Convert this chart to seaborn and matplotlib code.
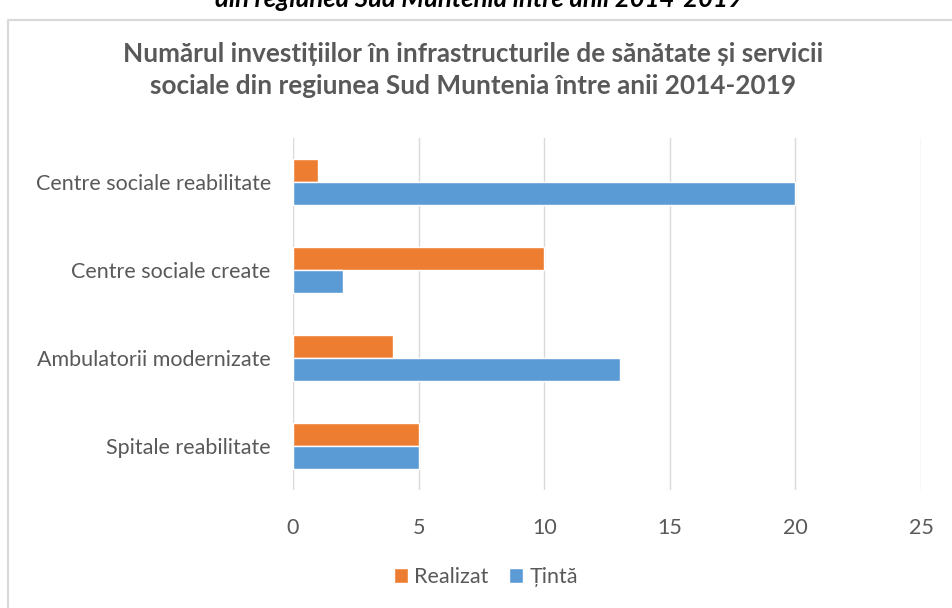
import pandas as pd
import seaborn as sns
import matplotlib.pyplot as plt
from matplotlib.lines import Line2D

# date
categorii = ["Centre sociale reabilitate", "Centre sociale create",
             "Ambulatorii modernizate", "Spitale reabilitate"]
realizat = [1, 10, 4, 5]
tinta = [20, 2, 13, 5]
serii = ["Realizat", "Țintă"]
culori = ["#ED7D31", "#5B9BD5"]
x_ticks = [0, 5, 10, 15, 20, 25]

df = pd.DataFrame({
    "Categorie": categorii * 2,
    "Valoare": realizat + tinta,
    "Serie": [serii[0]] * len(categorii) + [serii[1]] * len(categorii),
})

sns.set_style("white")
plt.rcParams["font.family"] = ["Lato", "DejaVu Sans"]

fig = plt.figure(figsize=(9.52, 6.08), dpi=100)
ax = fig.add_axes([293 / 952, 1 - 490 / 608, (921 - 293) / 952, (490 - 138) / 608])

sns.barplot(data=df, x="Valoare", y="Categorie", hue="Serie", orient="h",
            order=categorii, hue_order=serii, palette=culori,
            width=0.52, gap=0, saturation=1, ax=ax, legend=True)

ax.set_xlim(0, 25)
ax.set_xticks(x_ticks)
ax.xaxis.grid(True, color="#D9D9D9", linewidth=1)
ax.set_axisbelow(True)
for s in ax.spines.values():
    s.set_visible(False)
ax.set_xlabel("")
ax.set_ylabel("")
ax.tick_params(axis="x", colors="#595959", labelsize=15.5, length=0, pad=20)
ax.tick_params(axis="y", colors="#595959", labelsize=15.5, length=0, pad=16)
for lbl in ax.get_xticklabels() + ax.get_yticklabels():
    lbl.set_color("#595959")

leg = ax.legend(loc="center", bbox_to_anchor=(486 / 952, 1 - 577 / 608),
                bbox_transform=fig.transFigure, ncol=2, frameon=False,
                fontsize=15.5, handlelength=0.65, handleheight=0.65,
                handletextpad=0.28, columnspacing=0.95)
for t in leg.get_texts():
    t.set_color("#595959")

# titlu
fig.text(473 / 952, 1 - 70 / 608,
         "Numărul investițiilor în infrastructurile de sănătate și servicii\n"
         "sociale din regiunea Sud Muntenia între anii 2014-2019",
         ha="center", va="center", fontsize=18.8, fontweight="bold",
         color="#595959", linespacing=1.4)

# text taiat de sus
fig.text(479 / 952, 1 - 7 / 608, "din regiunea Sud Muntenia între anii 2014-2019",
         ha="center", va="baseline", fontsize=18.5, fontweight="bold",
         fontstyle="italic", color="#000000")

# chenar
fig.add_artist(Line2D([8 / 952, 8 / 952, 1], [0, 1 - 20 / 608, 1 - 20 / 608],
                      transform=fig.transFigure, color="#D9D9D9", linewidth=1.5))

fig.savefig("out.png", dpi=100)
